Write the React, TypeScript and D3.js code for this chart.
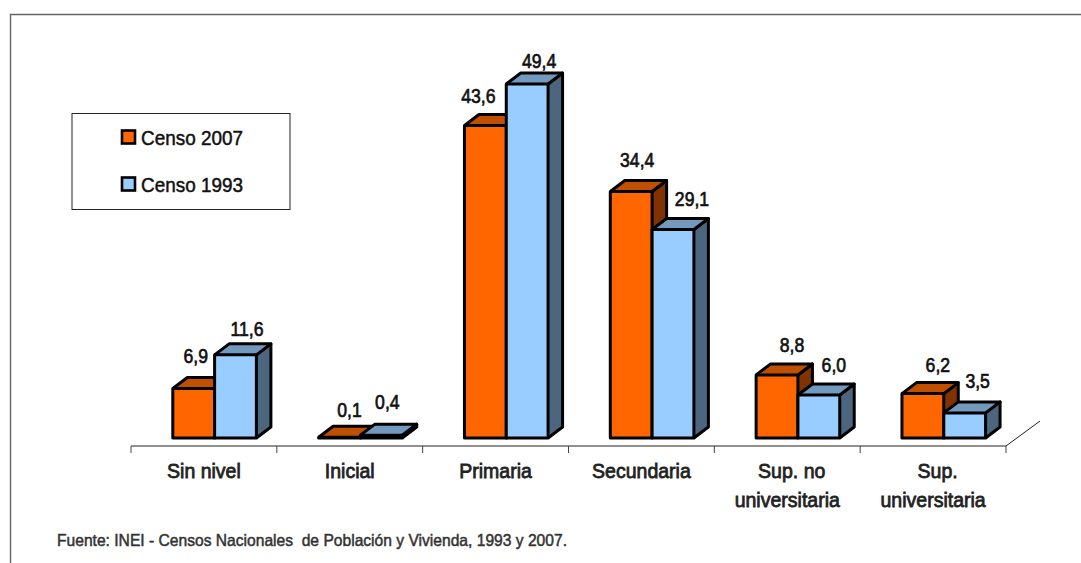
import React from 'react';
import * as d3 from 'd3';

const categories = [['Sin nivel'], ['Inicial'], ['Primaria'], ['Secundaria'], ['Sup. no', 'universitaria'], ['Sup.', 'universitaria']];
const censo2007 = [6.9, 0.1, 43.6, 34.4, 8.8, 6.2];
const censo1993 = [11.6, 0.4, 49.4, 29.1, 6.0, 3.5];
const seriesNames = ['Censo 2007', 'Censo 1993'];

// hand nudges so the value labels sit where the original put them
const labelNudge2007 = [[2, -25.5], [10, -20], [-7, -22.5], [6, -24.5], [15, -23], [15, -21.5]];
const labelNudge1993 = [[11.5, -19], [6, -26], [12, -16], [19, -23.5], [15, -23], [13, -25]];

const palette = [
    {front: '#FF6600', top: '#C05000', side: '#803300'},
    {front: '#99CCFF', top: '#7399BF', side: '#4D6680'},
];

const fontFamily = '"Liberation Sans", Arial, sans-serif';
const fmt = (v: number) => v.toFixed(1).replace('.', ',');

const x = d3.scaleBand<number>().domain(d3.range(categories.length)).range([131, 1006]);
const y = d3.scaleLinear().domain([0, 49.4]).range([438, 84]);
const barW = 41.8;
const depthX = 14.5;
const depthY = -11;
const axisY = 446;

const poly = d3.line();

const Bar = ({left, value, colors}: any) => {
    const top = y(value);
    const base = y(0);
    const right = left + barW;
    return (
        <g stroke="#000" strokeWidth={3} strokeLinejoin="round">
            <path fill={colors.side} d={poly([[right, top], [right + depthX, top + depthY], [right + depthX, base + depthY], [right, base]])!} />
            <path fill={colors.top} d={poly([[left, top], [left + depthX, top + depthY], [right + depthX, top + depthY], [right, top]])!} />
            <rect x={left} y={top} width={barW} height={base - top} fill={colors.front} />
        </g>
    );
};

export default function App() {
    const ticks = [...x.domain().map((d) => x(d)!), x.range()[1]];
    return (
        <svg width={1081} height={563} style={{position: 'absolute', left: 0, top: 0, background: '#fff'}} fontFamily={fontFamily}>
            <path d="M10.5,563V14.5H1081" fill="none" stroke="#666" strokeWidth={1.4} />

            <rect x={72} y={113.5} width={218} height={96} fill="#fff" stroke="#222" strokeWidth={1} />
            {seriesNames.map((name, i) => (
                <g key={name}>
                    <rect x={122} y={130.5 + i * 47} width={13} height={13} fill={palette[i].front} stroke="#000" strokeWidth={2.6} />
                    <text x={141} y={145 + i * 47} fontSize={21} textLength={102} lengthAdjust="spacingAndGlyphs" fill="#111" stroke="#111" strokeWidth={0.5}>{name}</text>
                </g>
            ))}

            {categories.map((_, i) => {
                const start = x(i)! + barW;
                return (
                    <g key={i}>
                        <Bar left={start} value={censo2007[i]} colors={palette[0]} />
                        <Bar left={start + barW} value={censo1993[i]} colors={palette[1]} />
                    </g>
                );
            })}

            <path d={`M131,${axisY}H1006L1040,421`} fill="none" stroke="#222" strokeWidth={1} />
            {ticks.map((t) => (
                <line key={t} x1={t} x2={t} y1={axisY} y2={axisY + 7} stroke="#444" strokeWidth={1} />
            ))}

            {categories.map((lines, i) => lines.map((line, k) => {
                const cx = x(i)! + x.bandwidth() / 2 + (lines.length > 1 && k === 0 ? 4.5 : 0);
                return (
                    <text key={`${i}-${k}`} transform={`translate(${cx},${477.5 + k * 29.5}) scale(0.93,1)`} textAnchor="middle" fontSize={21} fill="#222" stroke="#222" strokeWidth={0.8}>{line}</text>
                );
            }))}

            {[censo2007, censo1993].map((values, s) => values.map((v, i) => {
                const nudge = (s === 0 ? labelNudge2007 : labelNudge1993)[i];
                const cx = x(i)! + barW * (s + 1.5) + nudge[0];
                return (
                    <text key={`${s}-${i}`} transform={`translate(${cx},${y(v) + nudge[1]}) scale(0.84,1)`} textAnchor="middle" fontSize={21} fill="#111" stroke="#111" strokeWidth={0.7}>{fmt(v)}</text>
                );
            }))}

            <text x={57} y={546} fontSize={16.5} fill="#333" stroke="#333" strokeWidth={0.5} textLength={510} lengthAdjust="spacingAndGlyphs" xmlSpace="preserve">Fuente: INEI - Censos Nacionales  de Población y Vivienda, 1993 y 2007.</text>
        </svg>
    );
}
